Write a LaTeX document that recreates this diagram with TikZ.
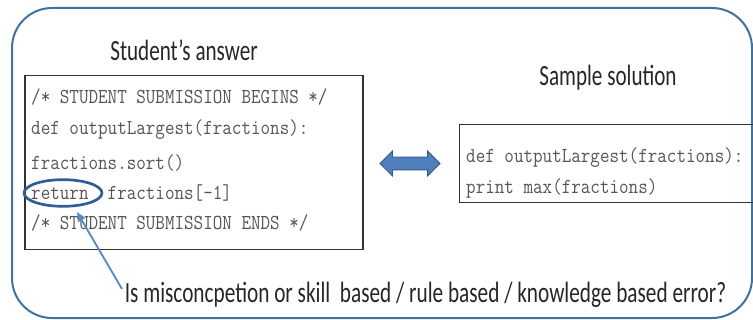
\documentclass[tikz,border=0pt]{standalone}
\usepackage{fontspec}
\setmainfont{Carlito}
\usetikzlibrary{shapes.geometric,shapes.arrows,arrows.meta}

\definecolor{framec}{HTML}{41719C}
\definecolor{ringc}{HTML}{2F5D96}
\definecolor{pointc}{HTML}{5A8AC6}
\definecolor{arrowc}{HTML}{4F7FBD}
\definecolor{codec}{HTML}{555555}

\tikzset{
  squeeze/.style={xscale=#1, transform shape},
  frame/.style={draw=framec, line width=1.5pt, rounded corners=30pt},
  codebox/.style={draw=black!80, line width=0.9pt, inner sep=0pt},
  code/.style={anchor=west, inner sep=0pt, squeeze=0.87,
    font=\ttfamily\fontsize{16}{19}\selectfont, text=codec},
  title/.style={inner sep=0pt, squeeze=#1,
    font=\fontsize{22}{26}\selectfont, text=black!85},
  title/.default=0.72,
}

\begin{document}
\begin{tikzpicture}[x=0.75pt,y=-0.75pt]
  \useasboundingbox (0,0) rectangle (753,320);
  \draw[frame] (12,8) rectangle (752,318);

  % student side
  \node[title] (stitle) at (184,50) {Student’s answer};
  \node[codebox, minimum width=253.5pt, minimum height=131pt] (student) at (194,162.5) {};
  \node[code] (s1) at (31,97) {/* STUDENT SUBMISSION BEGINS */};
  \node[code] (s2) at (31,130) {def outputLargest(fractions):};
  \node[code] (s3) at (31,163) {fractions.sort()};
  \node[code] (s4) at (31,193) {return\ \ fractions[-1]};
  \node[code] (s5) at (31,223) {/* STUDENT SUBMISSION ENDS */};

  % sample side
  \node[title] (ttitle) at (608,78) {Sample solution};
  \node[codebox, minimum width=224pt, minimum height=58pt] (sample) at (608.5,163.5) {};
  \node[code] (t1) at (466,158) {def outputLargest(fractions):};
  \node[code] (t2) at (466,188) {print max(fractions)};

  \node[double arrow, fill=arrowc, draw=arrowc!70!black, line width=0.6pt,
        inner sep=4.5pt, double arrow head extend=4.5pt,
        minimum height=45pt] (compare) at (410,163.5) {};

  % marking the return
  \node[ellipse, draw=ringc, line width=2pt,
        minimum width=58.5pt, minimum height=20pt] (ring) at (63,193) {};
  \node[title=0.725] (question) at (425.5,295)
    {Is misconcpetion or skill\ \ based / rule based / knowledge based error?};
  \coordinate (tail) at (122,289);
  \coordinate (tip) at (77,212);
  \draw[pointc, line width=1.4pt, -{Triangle[length=7pt,width=6pt]}] (tail) -- (tip);
\end{tikzpicture}
\end{document}
